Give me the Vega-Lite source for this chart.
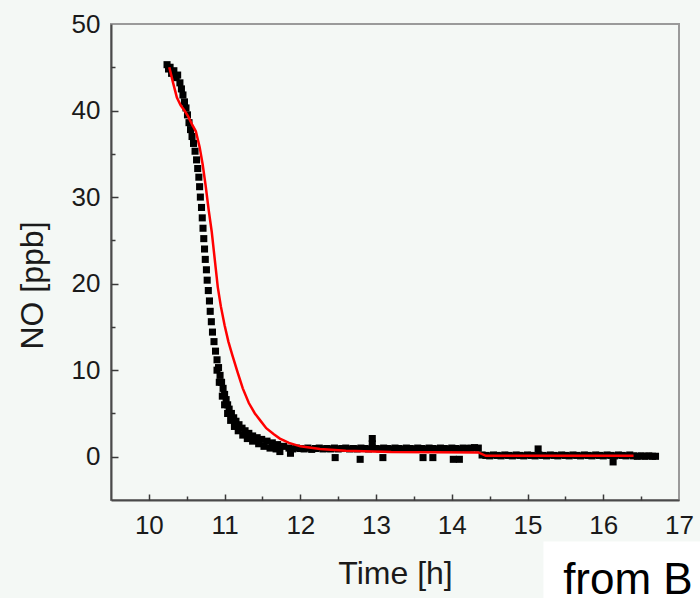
{
  "$schema": "https://vega.github.io/schema/vega-lite/v6.json",
  "width": 568,
  "height": 476,
  "autosize": {"type": "none"},
  "padding": {"left": 111, "top": 24, "right": 21, "bottom": 98},
  "background": "#f4f8f5",
  "config": {
    "view": {"stroke": "#9a9a9a", "strokeWidth": 2},
    "axis": {"grid": false, "domainColor": "#4a4a4a", "domainWidth": 2,
      "labelFont": "Liberation Sans", "labelFontSize": 26, "labelColor": "#1a1a1a",
      "titleFont": "Liberation Sans", "titleFontSize": 32, "titleFontWeight": "normal", "titleColor": "#1a1a1a"}
  },
  "resolve": {"axis": {"x": "independent", "y": "independent"}},
  "datasets": {
    "obs": [
      {"t":10.24,"no":45.3},{"t":10.26,"no":44.8},{"t":10.28,"no":45.0},{"t":10.30,"no":44.3},{"t":10.33,"no":44.6},
      {"t":10.36,"no":43.8},{"t":10.38,"no":44.1},{"t":10.41,"no":43.2},{"t":10.43,"no":42.5},{"t":10.45,"no":41.8},
      {"t":10.47,"no":41.0},{"t":10.49,"no":40.3},{"t":10.51,"no":39.5},{"t":10.53,"no":38.6},{"t":10.55,"no":37.8},
      {"t":10.57,"no":37.0},{"t":10.59,"no":36.2},{"t":10.61,"no":35.3},{"t":10.63,"no":34.3},{"t":10.645,"no":33.3},
      {"t":10.66,"no":32.3},{"t":10.67,"no":31.2},{"t":10.68,"no":30.0},{"t":10.695,"no":28.8},{"t":10.705,"no":27.6},
      {"t":10.715,"no":26.4},{"t":10.725,"no":25.2},{"t":10.735,"no":24.0},{"t":10.745,"no":22.8},{"t":10.76,"no":21.6},
      {"t":10.77,"no":20.4},{"t":10.785,"no":19.2},{"t":10.80,"no":18.0},{"t":10.81,"no":16.8},{"t":10.825,"no":15.6},
      {"t":10.84,"no":14.4},{"t":10.86,"no":13.3},{"t":10.88,"no":12.2},{"t":10.90,"no":11.2},{"t":10.92,"no":10.3},
      {"t":10.94,"no":9.4},{"t":10.96,"no":8.6},{"t":10.98,"no":7.9},{"t":11.00,"no":7.2},{"t":11.02,"no":6.6},
      {"t":11.04,"no":6.0},{"t":11.06,"no":5.5},{"t":11.09,"no":5.0},{"t":11.12,"no":4.5},{"t":11.15,"no":4.1},
      {"t":11.19,"no":3.7},{"t":11.23,"no":3.3},{"t":11.27,"no":3.0},{"t":11.32,"no":2.7},{"t":11.37,"no":2.4},
      {"t":11.43,"no":2.2},{"t":11.49,"no":2.0},{"t":11.56,"no":1.8},{"t":11.63,"no":1.6},{"t":11.70,"no":1.4},
      {"t":11.78,"no":1.2},
      {"t":10.90,"no":10.0},{"t":10.93,"no":8.6},{"t":10.97,"no":7.0},{"t":11.00,"no":6.0},{"t":11.04,"no":5.0},
      {"t":11.08,"no":4.2},{"t":11.13,"no":3.5},{"t":11.18,"no":3.0},{"t":11.24,"no":2.5},{"t":11.30,"no":2.1},
      {"t":11.37,"no":1.8},{"t":11.45,"no":1.5},{"t":11.52,"no":1.2},{"t":11.60,"no":1.0},{"t":11.68,"no":0.9},
      {"t":11.73,"no":0.6},{"t":11.87,"no":0.4},
      {"t":11.85,"no":1.0},{"t":11.90,"no":0.9},{"t":11.95,"no":1.0},{"t":12.00,"no":0.95},{"t":12.05,"no":0.9},
      {"t":12.10,"no":1.0},{"t":12.15,"no":0.85},{"t":12.20,"no":0.95},{"t":12.25,"no":1.0},{"t":12.30,"no":0.9},
      {"t":12.35,"no":0.95},{"t":12.40,"no":0.9},{"t":12.45,"no":1.0},{"t":12.50,"no":0.9},{"t":12.55,"no":0.95},
      {"t":12.60,"no":1.0},{"t":12.65,"no":0.9},{"t":12.70,"no":0.95},{"t":12.75,"no":0.9},{"t":12.80,"no":1.0},
      {"t":12.85,"no":0.95},{"t":12.90,"no":0.9},{"t":12.95,"no":1.0},{"t":13.00,"no":0.95},{"t":13.05,"no":0.9},
      {"t":13.10,"no":1.0},{"t":13.15,"no":0.95},{"t":13.20,"no":0.9},{"t":13.25,"no":1.0},{"t":13.30,"no":0.95},
      {"t":13.35,"no":0.9},{"t":13.40,"no":1.0},{"t":13.45,"no":0.95},{"t":13.50,"no":0.9},{"t":13.55,"no":1.0},
      {"t":13.60,"no":0.95},{"t":13.65,"no":0.9},{"t":13.70,"no":1.0},{"t":13.75,"no":0.95},{"t":13.80,"no":0.9},
      {"t":13.85,"no":1.0},{"t":13.90,"no":0.95},{"t":13.95,"no":0.9},{"t":14.00,"no":1.0},{"t":14.05,"no":0.95},
      {"t":14.10,"no":0.9},{"t":14.15,"no":1.0},{"t":14.20,"no":0.95},{"t":14.25,"no":1.0},{"t":14.30,"no":1.05},
      {"t":14.35,"no":1.0},
      {"t":12.46,"no":-0.1},{"t":12.79,"no":-0.3},{"t":12.95,"no":2.1},{"t":12.95,"no":1.5},{"t":13.09,"no":-0.1},
      {"t":13.62,"no":-0.1},{"t":13.75,"no":-0.1},{"t":14.02,"no":-0.3},{"t":14.10,"no":-0.3},
      {"t":14.40,"no":0.2},{"t":14.45,"no":0.15},{"t":14.50,"no":0.1},{"t":14.55,"no":0.2},{"t":14.60,"no":0.15},
      {"t":14.65,"no":0.1},{"t":14.70,"no":0.2},{"t":14.75,"no":0.15},{"t":14.80,"no":0.1},{"t":14.85,"no":0.2},
      {"t":14.90,"no":0.15},{"t":14.95,"no":0.1},{"t":15.00,"no":0.2},{"t":15.05,"no":0.15},{"t":15.10,"no":0.1},
      {"t":15.14,"no":0.9},{"t":15.15,"no":0.2},{"t":15.20,"no":0.15},{"t":15.25,"no":0.1},{"t":15.30,"no":0.2},
      {"t":15.35,"no":0.15},{"t":15.40,"no":0.1},{"t":15.45,"no":0.2},{"t":15.50,"no":0.15},{"t":15.55,"no":0.1},
      {"t":15.60,"no":0.2},{"t":15.65,"no":0.15},{"t":15.70,"no":0.1},{"t":15.75,"no":0.2},{"t":15.80,"no":0.15},
      {"t":15.85,"no":0.1},{"t":15.90,"no":0.2},{"t":15.95,"no":0.15},{"t":16.00,"no":0.1},{"t":16.05,"no":0.2},
      {"t":16.10,"no":0.15},{"t":16.13,"no":-0.6},{"t":16.15,"no":0.1},{"t":16.20,"no":0.2},{"t":16.25,"no":0.15},
      {"t":16.30,"no":0.1},{"t":16.35,"no":0.2},{"t":16.40,"no":0.1},{"t":16.45,"no":0.05},{"t":16.50,"no":0.1},
      {"t":16.55,"no":0.05},{"t":16.60,"no":0.1},{"t":16.65,"no":0.05},{"t":16.69,"no":0.05}
    ],
    "fit": [
      {"t":10.27,"no":45.0},{"t":10.32,"no":43.2},{"t":10.37,"no":41.5},{"t":10.42,"no":40.6},{"t":10.47,"no":40.0},
      {"t":10.52,"no":39.3},{"t":10.57,"no":38.4},{"t":10.62,"no":37.6},{"t":10.67,"no":35.8},{"t":10.71,"no":33.8},
      {"t":10.75,"no":31.3},{"t":10.79,"no":28.5},{"t":10.83,"no":26.0},{"t":10.87,"no":22.8},{"t":10.91,"no":19.6},
      {"t":10.95,"no":17.4},{"t":11.00,"no":15.2},{"t":11.05,"no":13.3},{"t":11.10,"no":11.8},{"t":11.17,"no":9.8},
      {"t":11.24,"no":7.9},{"t":11.32,"no":6.2},{"t":11.40,"no":5.0},{"t":11.47,"no":4.2},{"t":11.55,"no":3.3},
      {"t":11.65,"no":2.6},{"t":11.73,"no":2.1},{"t":11.85,"no":1.6},{"t":12.00,"no":1.2},{"t":12.26,"no":0.9},
      {"t":12.60,"no":0.7},{"t":13.20,"no":0.55},{"t":14.35,"no":0.5},{"t":14.45,"no":0.1},{"t":16.40,"no":0.1}
    ],
    "note": [{"label": "from B"}]
  },
  "layer": [
    {
      "data": {"name": "note"},
      "mark": {"type": "rect", "color": "#ffffff", "clip": false},
      "encoding": {
        "x": {"datum": 15.21, "type": "quantitative", "scale": {"domain": [9.5, 17], "nice": false, "zero": false}, "axis": null},
        "x2": {"datum": 17.5},
        "y": {"datum": -9.8, "type": "quantitative", "scale": {"domain": [-5, 50], "nice": false, "zero": false}, "axis": null},
        "y2": {"datum": -17.5}
      }
    },
    {
      "data": {"name": "obs"},
      "mark": {"type": "square", "size": 50, "color": "#000000", "opacity": 1},
      "encoding": {
        "x": {"field": "t", "type": "quantitative",
          "scale": {"domain": [9.5, 17], "nice": false, "zero": false},
          "axis": {"orient": "bottom", "title": "Time [h]", "values": [10,11,12,13,14,15,16,17],
            "format": "d", "ticks": false,
            "labelPadding": 12, "labelFlush": false, "titleY": 83, "titleBaseline": "alphabetic"}},
        "y": {"field": "no", "type": "quantitative",
          "scale": {"domain": [-5, 50], "nice": false, "zero": false},
          "axis": {"orient": "left", "title": "NO [ppb]", "values": [0,10,20,30,40,50],
            "format": "d", "ticks": false,
            "labelPadding": 11, "labelFlush": false,
            "titleX": -69, "titleY": 261, "titleAlign": "center", "titleBaseline": "alphabetic"}}
      }
    },
    {
      "data": {"name": "fit"},
      "mark": {"type": "line", "color": "#ff0000", "strokeWidth": 2.5},
      "encoding": {
        "x": {"field": "t", "type": "quantitative",
          "axis": {"orient": "top", "offset": -476, "title": null, "labels": false, "domain": false,
            "ticks": true, "tickColor": "#3a3a3a", "tickWidth": 1.5, "zindex": 2,
            "tickSize": {"condition": {"test": "datum.value % 1 === 0", "value": 6}, "value": 4},
            "values": [10,10.5,11,11.5,12,12.5,13,13.5,14,14.5,15,15.5,16,16.5]}},
        "y": {"field": "no", "type": "quantitative",
          "axis": {"orient": "right", "offset": -568, "title": null, "labels": false, "domain": false,
            "ticks": true, "tickColor": "#3a3a3a", "tickWidth": 1.5, "zindex": 2,
            "tickSize": {"condition": {"test": "datum.value % 10 === 0", "value": 7}, "value": 4},
            "values": [0,5,10,15,20,25,30,35,40,45]}}
      }
    },
    {
      "data": {"name": "note"},
      "mark": {"type": "text", "font": "Liberation Sans", "fontSize": 44, "align": "left", "baseline": "alphabetic", "color": "#000000", "clip": false},
      "encoding": {
        "x": {"datum": 15.47, "type": "quantitative", "axis": null},
        "y": {"datum": -15.85, "type": "quantitative", "axis": null},
        "text": {"field": "label"}
      }
    }
  ]
}
